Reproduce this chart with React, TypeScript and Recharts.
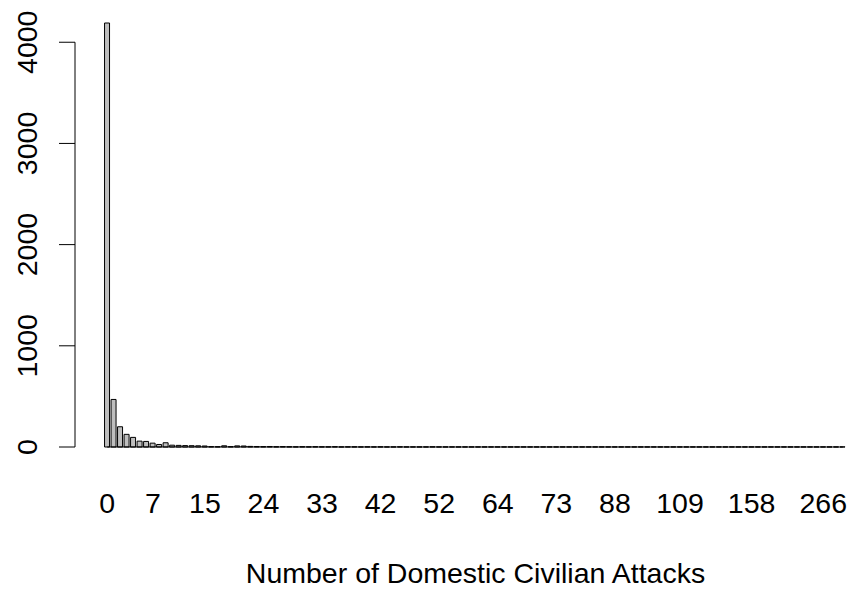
import { BarChart, Bar, XAxis, YAxis, ReferenceLine, Label } from "recharts";

// distinct attack counts (the table's names) and how many cases had each
const categories = [
  "0", "1", "2", "3", "4", "5", "6", "7", "8", "9",
  "10", "11", "12", "13", "14", "15", "16", "17", "18", "19",
  "20", "21", "22", "23", "24", "25", "26", "27", "28", "29",
  "30", "31", "32", "33", "34", "35", "36", "37", "38", "39",
  "40", "41", "42", "43", "44", "45", "46", "47", "48", "50",
  "51", "52", "53", "54", "55", "56", "58", "59", "61", "62",
  "64", "65", "66", "67", "68", "69", "70", "71", "72", "73",
  "74", "75", "77", "78", "80", "81", "84", "85", "88", "89",
  "90", "92", "94", "96", "98", "100", "102", "105", "109", "111",
  "113", "116", "120", "124", "128", "133", "139", "145", "150", "158",
  "162", "168", "175", "183", "192", "205", "218", "230", "244", "255",
  "266", "290", "331", "412",
];

const counts = [
  4190, 470, 200, 125, 95, 58, 55, 38, 25, 42,
  18, 16, 14, 13, 12, 10, 4, 3, 12, 4,
  11, 10, 6, 5, 4, 5, 3, 4, 3, 2,
  3, 2, 3, 2, 2, 3, 1, 2, 2, 1,
  2, 1, 2, 1, 1, 2, 1, 1, 1, 1,
  2, 1, 1, 1, 1, 1, 1, 1, 1, 1,
  1, 1, 1, 1, 1, 1, 1, 1, 1, 1,
  1, 1, 1, 1, 1, 1, 1, 1, 1, 1,
  1, 1, 1, 1, 1, 1, 1, 1, 1, 1,
  1, 1, 1, 1, 1, 1, 1, 1, 1, 1,
  1, 1, 1, 1, 1, 1, 1, 1, 1, 1,
  1, 1, 1, 1,
];

const xTicks = ["0", "7", "15", "24", "33", "42", "52", "64", "73", "88", "109", "158", "266"];
const yTicks = [0, 1000, 2000, 3000, 4000];

const FONT = "'Liberation Sans', Arial, sans-serif";
const FONT_SIZE = 28.5;

const data = categories.map((value, i) => ({ value, count: counts[i] }));

function YTick(props: any) {
  const { x, y, payload } = props;
  return (
    <text
      x={x}
      y={y}
      transform={`rotate(-90 ${x} ${y})`}
      textAnchor="middle"
      fontSize={FONT_SIZE}
      fontFamily={FONT}
      fill="#000"
    >
      {payload.value}
    </text>
  );
}

export default function App() {
  return (
    <div
      style={{
        position: "absolute",
        left: 0,
        top: 0,
        width: 857,
        height: 591,
        overflow: "hidden",
        background: "#fff",
      }}
    >
      <BarChart
        width={877}
        height={591}
        data={data}
        margin={{ top: 22, right: 1, left: 0, bottom: 0 }}
        barCategoryGap="8.3%"
      >
        <XAxis
          dataKey="value"
          type="category"
          ticks={xTicks}
          interval={0}
          tickLine={false}
          axisLine={false}
          tickSize={0}
          tickMargin={46}
          height={144}
          padding={{ left: 29, right: 30 }}
          tick={{ fontSize: FONT_SIZE, fill: "#000", fontFamily: FONT }}
        >
          <Label
            value="Number of Domestic Civilian Attacks"
            position="insideBottom"
            offset={8}
            style={{ fontSize: FONT_SIZE, fill: "#000", fontFamily: FONT }}
          />
        </XAxis>
        <XAxis xAxisId="frame" type="number" domain={[0, 1]} hide />
        <YAxis
          width={75}
          domain={[0, 4200]}
          ticks={yTicks}
          axisLine={false}
          tickLine={{ stroke: "#000" }}
          tickSize={16}
          tickMargin={22}
          tick={<YTick />}
        />
        <Bar dataKey="count" fill="#BEBEBE" stroke="#000" strokeWidth={1} isAnimationActive={false} />
        <ReferenceLine
          segment={[
            { x: categories[0], y: 0 },
            { x: categories[categories.length - 1], y: 0 },
          ]}
          stroke="#000"
        />
        <ReferenceLine
          xAxisId="frame"
          segment={[
            { x: 0, y: 0 },
            { x: 0, y: 4000 },
          ]}
          stroke="#000"
        />
      </BarChart>
    </div>
  );
}
